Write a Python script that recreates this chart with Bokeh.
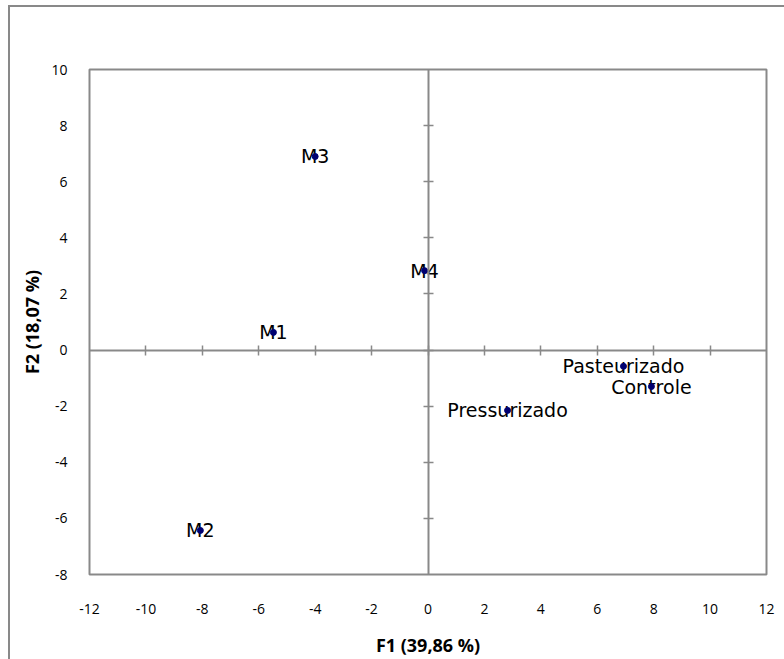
from bokeh.plotting import figure
from bokeh.models import ColumnDataSource, Range1d, LinearAxis, FixedTicker
from bokeh.layouts import column
from bokeh.core.properties import value
from bokeh.embed import file_html
from bokeh.resources import INLINE

# Data
names = ["M1", "M2", "M3", "M4", "Pasteurizado", "Controle", "Pressurizado"]
f1 = [-5.48, -8.07, -4.0, -0.12, 6.93, 7.92, 2.82]
f2 = [0.63, -6.43, 6.9, 2.83, -0.58, -1.3, -2.15]
x_ticks = [-12, -10, -8, -6, -4, -2, 0, 2, 4, 6, 8, 10, 12]
y_ticks = [-8, -6, -4, -2, 0, 2, 4, 6, 8, 10]
x_title = "F1 (39,86 %)"
y_title = "F2 (18,07 %)"

GREY = "#898989"
FONT = "Open Sans"

src = ColumnDataSource(dict(x=f1, y=f2, name=names))

p = figure(
    frame_width=677, frame_height=505,
    x_range=Range1d(x_ticks[0], x_ticks[-1]),
    y_range=Range1d(y_ticks[0], y_ticks[-1]),
    output_backend="svg", toolbar_location=None,
    min_border_left=79, min_border_right=18,
    min_border_top=62, min_border_bottom=85,
    x_axis_label=x_title, y_axis_label=y_title,
)
p.outline_line_color = GREY
p.outline_line_width = 2
p.grid.visible = False
p.background_fill_color = "white"
p.border_fill_color = "white"

for ax, ticks in ((p.xaxis[0], x_ticks), (p.yaxis[0], y_ticks)):
    ax.ticker = FixedTicker(ticks=ticks)
    ax.major_label_overrides = {t: str(t) for t in ticks}
    ax.axis_line_color = None
    ax.major_tick_line_color = None
    ax.major_tick_in = 0
    ax.major_tick_out = 0
    ax.minor_tick_line_color = None
    ax.minor_tick_in = 0
    ax.minor_tick_out = 0
    ax.major_label_text_font = FONT
    ax.major_label_text_font_size = "14px"
    ax.major_label_text_color = "black"
    ax.axis_label_text_font = FONT
    ax.axis_label_text_font_size = "18px"
    ax.axis_label_text_font_style = "bold"
    ax.axis_label_text_color = "black"

p.xaxis.major_label_standoff = 29
p.xaxis.axis_label_standoff = 16
p.yaxis.major_label_standoff = 22
p.yaxis.axis_label_standoff = 4

# Zero-crossing axes
xa0 = LinearAxis(fixed_location=0, ticker=FixedTicker(ticks=x_ticks[1:-1]))
ya0 = LinearAxis(fixed_location=0, ticker=FixedTicker(ticks=y_ticks[1:-1]))
for ax in (xa0, ya0):
    ax.axis_line_color = GREY
    ax.axis_line_width = 2
    ax.major_tick_line_color = GREY
    ax.major_tick_line_width = 1.5
    ax.major_tick_in = 5
    ax.major_tick_out = 5
    ax.minor_tick_line_color = None
    ax.major_label_text_font_size = "0px"
    ax.major_label_text_alpha = 0
p.add_layout(xa0, "below")
p.add_layout(ya0, "left")

p.text(x="x", y="y", text="name", source=src,
       text_font=value("DejaVu Sans"), text_font_size="19px", text_color="black",
       text_align="center", text_baseline="middle")
p.scatter(x="x", y="y", source=src, size=6, color="#000070")

layout = column(p, styles={"border-left": f"2px solid {GREY}",
                           "border-top": f"2px solid {GREY}",
                           "margin-left": "8px", "margin-top": "5px"})

open("out.html", "w").write(file_html(layout, INLINE))
